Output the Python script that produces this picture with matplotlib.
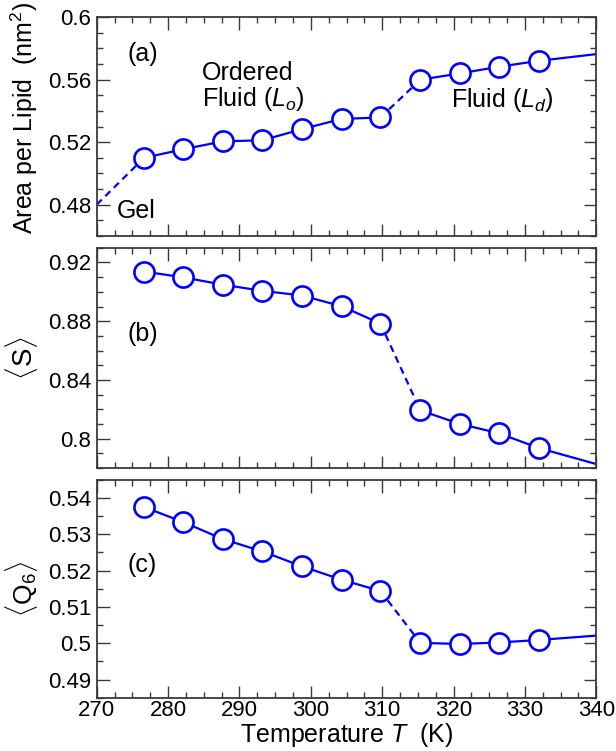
import matplotlib
matplotlib.use("Agg")
import matplotlib.pyplot as plt
from matplotlib.ticker import MultipleLocator, NullFormatter

plt.rcParams["font.family"] = ["Liberation Sans", "DejaVu Sans"]
plt.rcParams["mathtext.fontset"] = "custom"
plt.rcParams["mathtext.rm"] = "Liberation Sans"
plt.rcParams["mathtext.it"] = "Liberation Sans:italic"

# simulation temperatures (K)
temps = [276.65, 282.1, 287.65, 293.2, 298.75, 304.3, 309.75, 315.35, 320.85, 326.35, 331.95]

area = [0.5100, 0.5154, 0.5205, 0.5212, 0.5283, 0.5349, 0.5358, 0.5600, 0.5640, 0.5683, 0.5721]
order_s = [0.9138, 0.9099, 0.9049, 0.9007, 0.8975, 0.8902, 0.8784, 0.8192, 0.8100, 0.8036, 0.7935]
q6 = [0.5375, 0.5334, 0.5287, 0.5253, 0.5212, 0.5175, 0.5144, 0.5001, 0.4998, 0.5002, 0.5009]

# extrapolated ends of the curves
area_gel = (270.0, 0.480)
area_hi = (340.0, 0.5764)
order_hi = (340.0, 0.7826)
q6_hi = (340.0, 0.5021)

BLUE = "#0000ff"
SPINE = "#3a3a3a"
TICK_FS = 16
TEXT_FS = 18


def draw_curve(ax, y, hi, lo=None):
    # ordered branch, transition (dashed), disordered branch
    ax.plot(temps[:7], y[:7], color=BLUE, lw=1.6, zorder=2)
    ax.plot(temps[6:8], y[6:8], color=BLUE, lw=1.6, dashes=(3.2, 2.2), zorder=2)
    ax.plot(temps[7:] + [hi[0]], y[7:] + [hi[1]], color=BLUE, lw=1.6, zorder=2)
    if lo is not None:
        ax.plot([lo[0], temps[0]], [lo[1], y[0]], color=BLUE, lw=1.6,
                dashes=(3.2, 2.2), zorder=2)
    ax.plot(temps, y, ls="none", marker="o", ms=14.5, mfc="white", mec=BLUE,
            mew=1.9, zorder=3)


def style(ax, ymin, ymax, major, minor, labels_x):
    ax.set_xlim(270, 340)
    ax.set_ylim(ymin, ymax)
    ax.xaxis.set_major_locator(MultipleLocator(10))
    ax.xaxis.set_minor_locator(MultipleLocator(2.5))
    ax.yaxis.set_major_locator(MultipleLocator(major))
    ax.yaxis.set_minor_locator(MultipleLocator(minor))
    ax.tick_params(which="both", direction="in", top=True, right=True,
                   color=SPINE, labelsize=TICK_FS, width=1.0)
    ax.tick_params(which="major", length=9)
    ax.tick_params(which="minor", length=4.5)
    ax.tick_params(axis="y", pad=4)
    ax.tick_params(axis="x", pad=2)
    if not labels_x:
        ax.xaxis.set_major_formatter(NullFormatter())
    for sp in ax.spines.values():
        sp.set_color(SPINE)
        sp.set_linewidth(1.3)


def place_ylabel(ax, x, y=0.5):
    ax.yaxis.label.set_va("center")
    ax.yaxis.set_label_coords(x, y)


fig = plt.figure(figsize=(6.16, 7.51), dpi=100)
left, width = 0.157, 0.811
ax_a = fig.add_axes([left, 0.686, width, 0.291])
ax_b = fig.add_axes([left, 0.377, width, 0.293])
ax_c = fig.add_axes([left, 0.071, width, 0.290])

# (a) area per lipid
draw_curve(ax_a, area, area_hi, lo=area_gel)
style(ax_a, 0.46, 0.60, 0.04, 0.01, False)
ax_a.set_yticks([0.48, 0.52, 0.56, 0.6])
ax_a.set_yticklabels(["0.48", "0.52", "0.56", "0.6"])
ax_a.set_ylabel(r"Area per Lipid  (nm$^2$)", fontsize=18)
place_ylabel(ax_a, -0.145, 0.54)
ax_a.text(0.062, 0.83, "(a)", transform=ax_a.transAxes, fontsize=TEXT_FS, va="center")
ax_a.text(0.21, 0.68, "Ordered\nFluid ($L_o$)", transform=ax_a.transAxes,
          fontsize=TEXT_FS, va="center", linespacing=1.0)
ax_a.text(0.71, 0.62, "Fluid ($L_d$)", transform=ax_a.transAxes, fontsize=TEXT_FS,
          va="center")
ax_a.text(0.04, 0.115, "Gel", transform=ax_a.transAxes, fontsize=TEXT_FS, va="center")

# (b) orientational order parameter
draw_curve(ax_b, order_s, order_hi)
style(ax_b, 0.78, 0.93, 0.04, 0.01, False)
ax_b.set_yticks([0.8, 0.84, 0.88, 0.92])
ax_b.set_yticklabels(["0.8", "0.84", "0.88", "0.92"])
ax_b.set_ylabel(r"$\langle\mathrm{S}\rangle$", fontsize=20)
place_ylabel(ax_b, -0.15)
ax_b.text(0.062, 0.61, "(b)", transform=ax_b.transAxes, fontsize=TEXT_FS, va="center")

# (c) bond-orientational order Q6
draw_curve(ax_c, q6, q6_hi)
style(ax_c, 0.485, 0.545, 0.01, 0.005, True)
ax_c.set_yticks([0.49, 0.5, 0.51, 0.52, 0.53, 0.54])
ax_c.set_yticklabels(["0.49", "0.5", "0.51", "0.52", "0.53", "0.54"])
ax_c.set_ylabel(r"$\langle\mathrm{Q}_6\rangle$", fontsize=19)
place_ylabel(ax_c, -0.15)
ax_c.set_xlabel(r"Temperature $T$  (K)", fontsize=18, va="bottom")
ax_c.xaxis.set_label_coords(0.5, -0.235)
ax_c.text(0.062, 0.61, "(c)", transform=ax_c.transAxes, fontsize=TEXT_FS, va="center")

fig.savefig("out.png", dpi=100)
